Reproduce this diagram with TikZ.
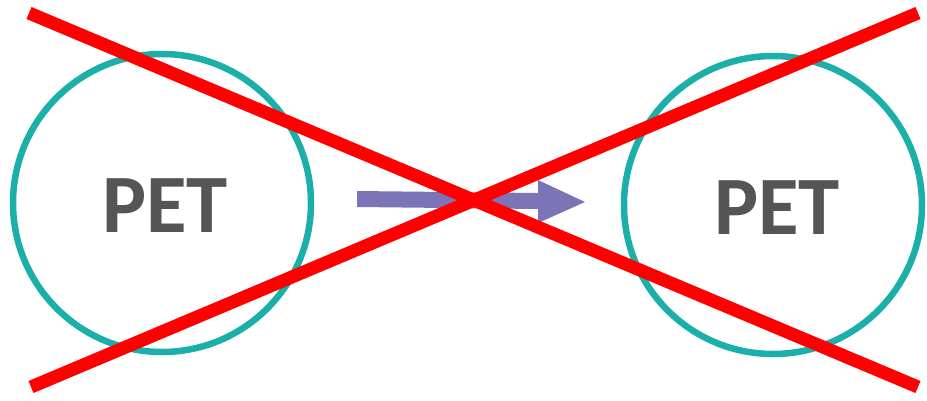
\documentclass[tikz,border=0pt]{standalone}
\usepackage{fontspec}
\setmainfont{Carlito}
\definecolor{teal1}{HTML}{1AAFA8}
\definecolor{purp}{HTML}{7B75B8}
\definecolor{txtgray}{HTML}{555555}
\begin{document}
\begin{tikzpicture}[x=1pt,y=-1pt,
  ring/.style={circle,draw=teal1,line width=6.5pt,minimum size=298pt,inner sep=0pt},
  lbl/.style={font=\fontsize{83}{90}\selectfont\bfseries,text=txtgray},
  cross/.style={draw=red,line width=13pt}]
\useasboundingbox (0,0) rectangle (927,400);
\node[ring] (c1) at (162,203) {};
\node[ring] (c2) at (773,205) {};
\node[lbl] (t1) at (165,206) {PET};
\node[lbl] (t2) at (777,208) {PET};
\fill[purp] (357,191) -- (538,193) -- (538,180) -- (585,202) -- (538,223) -- (538,209) -- (357,207) -- cycle;
\coordinate (l1a) at (29,13);
\coordinate (l1b) at (918,387);
\coordinate (l2a) at (31,387);
\coordinate (l2b) at (918,13);
\draw[cross] (l1a) -- (l1b);
\draw[cross] (l2a) -- (l2b);
\end{tikzpicture}
\end{document}
